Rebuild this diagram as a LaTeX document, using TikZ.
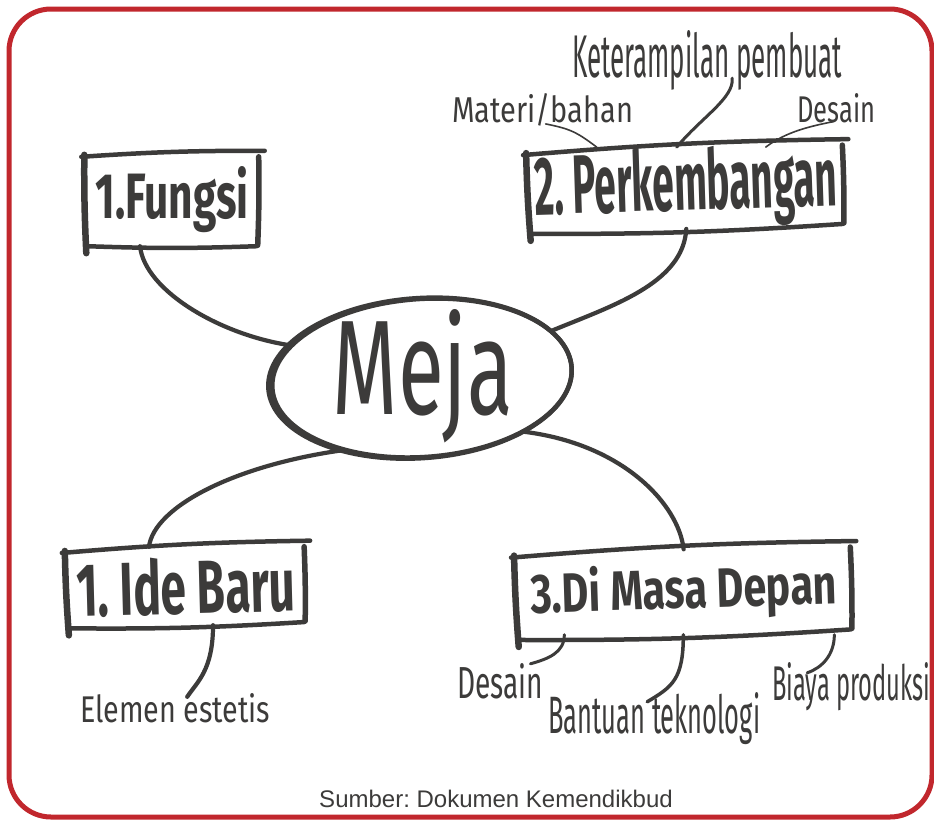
\documentclass[tikz,border=0pt]{standalone}
\usepackage{fontspec}
\setmainfont{Fira Sans}
\newfontfamily\srcfont{Liberation Sans}
\usetikzlibrary{shapes.geometric}
\definecolor{ink}{HTML}{3C3B3A}
\definecolor{framered}{HTML}{C1272D}
\newcommand\hw[3]{\resizebox{#1pt}{#2pt}{#3}}
\newcommand\hwb[3]{\resizebox{#1pt}{#2pt}{\bfseries #3}}
\newcommand\wbox[1]{%
  \draw[inkl, line width=4.5pt] ([xshift=-3pt,yshift=-3pt]#1.north west) to[bend left=2] ([xshift=5pt,yshift=3pt]#1.north east);
  \draw[inkl, line width=6.5pt] ([yshift=-1pt]#1.north west) to[bend right=1.5] ([xshift=2pt,yshift=-7pt]#1.south west);
  \draw[inkl, line width=5.5pt] ([xshift=-1pt,yshift=-3pt]#1.north east) to[bend left=1.5] ([xshift=-2pt,yshift=1pt]#1.south east);
  \draw[inkl, line width=4.5pt] ([xshift=3pt]#1.south west) to[bend right=2] ([xshift=-3pt]#1.south east);
}
\frenchspacing
\begin{document}
\begin{tikzpicture}[x=1pt,y=-1pt,
  inkl/.style={draw=ink, line cap=round, line join=round},
  boxn/.style={inner sep=0pt, text=ink},
  lab/.style={inner sep=0pt, text=ink},
  conn/.style={inkl, line width=4.2pt},
  subconn/.style={inkl, line width=3pt},
  thinconn/.style={inkl, line width=1.6pt}]
\useasboundingbox (0,0) rectangle (934,820);
\fill[white] (0,0) rectangle (934,820);
\draw[framered, line width=5pt, rounded corners=42pt] (9,9) rectangle (932,817);

% central ellipse (node for anchors, outline drawn by hand)
\node[ellipse, minimum width=300pt, minimum height=158pt, inner sep=0pt, rotate=4] (meja) at (422,378) {};
\begin{scope}[rotate around={4:(422,378)}]
  \draw[ink, line width=4.5pt] (422,378) ellipse[x radius=150pt, y radius=79pt];
  \draw[ink, line width=4.5pt] (420,378) ellipse[x radius=152pt, y radius=80pt];
\end{scope}
\node[lab] (mejatxt) at (423,376) {\hw{180}{105}{Meja}};

% boxes
\node[boxn, minimum width=175pt, minimum height=92pt] (fungsi) at (172,200) {\hwb{153}{52}{1.Fungsi}};
\node[boxn, minimum width=317pt, minimum height=80pt, rotate=1.8] (perk) at (686,188) {\hwb{303}{63}{2. Perkembangan}};
\node[boxn, minimum width=240pt, minimum height=78pt, rotate=1.5] (ide) at (186,586) {\hwb{219}{57}{1. Ide Baru}};
\node[boxn, minimum width=337pt, minimum height=85pt, rotate=1.8] (masa) at (684,592) {\hwb{306}{45}{3.Di Masa Depan}};
\wbox{fungsi}
\wbox{perk}
\wbox{ide}
\wbox{masa}

% sub labels
\node[lab, anchor=base west] (materi) at (452,122) {\hw{181}{29}{Materi/bahan}};
\node[lab, anchor=base west] (ket) at (572,77) {\hw{270}{47}{Keterampilan pembuat}};
\node[lab, anchor=base west] (desainA) at (797,122) {\hw{78}{29}{Desain}};
\node[lab, anchor=base west] (elemen) at (80,722) {\hw{190}{29}{Elemen estetis}};
\node[lab, anchor=base west] (desainB) at (457,698) {\hw{86}{35}{Desain}};
\node[lab, anchor=base west] (bantuan) at (548,733) {\hw{212}{41}{Bantuan teknologi}};
\node[lab, anchor=base west] (biaya) at (772,700) {\hw{158}{38}{Biaya produksi}};

% main connectors
\draw[conn] ([xshift=-32pt]fungsi.south) .. controls +(5,45) and +(-70,-10) .. (meja.162);
\draw[conn] ([xshift=-1pt]perk.south) .. controls +(-3,55) and +(60,-25) .. (meja.16);
\draw[conn] (meja.219) .. controls +(-110,15) and +(5,-40) .. ([xshift=-36pt]ide.north);
\draw[conn] (meja.328) .. controls +(100,12) and +(-5,-45) .. ([xshift=1pt]masa.north);

% sub connectors
\draw[thinconn] ([xshift=3pt,yshift=2pt]materi.south) .. controls +(25,5) and +(-20,-15) .. ([xshift=-88pt]perk.north);
\draw[subconn] ([xshift=25pt,yshift=12pt]ket.south) .. controls +(2,20) and +(25,-30) .. ([xshift=-8pt]perk.north);
\draw[thinconn] ([xshift=-3pt,yshift=1pt]desainA.south) .. controls +(-25,5) and +(20,-15) .. ([xshift=81pt]perk.north);
\draw[conn] ([xshift=26pt]ide.south) .. controls +(0,45) and +(10,-15) .. ([xshift=12pt,yshift=-4pt]elemen.north);
\draw[subconn] ([xshift=-121pt]masa.south) .. controls +(0,18) and +(18,-5) .. ([xshift=-13pt,yshift=-1pt]desainB.north east);
\draw[inkl, line width=3.5pt] ([xshift=-2pt]masa.south) .. controls +(0,45) and +(25,-15) .. ([xshift=-7pt,yshift=-10pt]bantuan.north);
\draw[subconn] ([xshift=149pt]masa.south) .. controls +(0,20) and +(15,-5) .. ([xshift=-44pt,yshift=-11pt]biaya.north);

% source
\node[lab, font=\srcfont\fontsize{24}{28}\selectfont, anchor=base] (src) at (496,807) {Sumber: Dokumen Kemendikbud};
\end{tikzpicture}
\end{document}
